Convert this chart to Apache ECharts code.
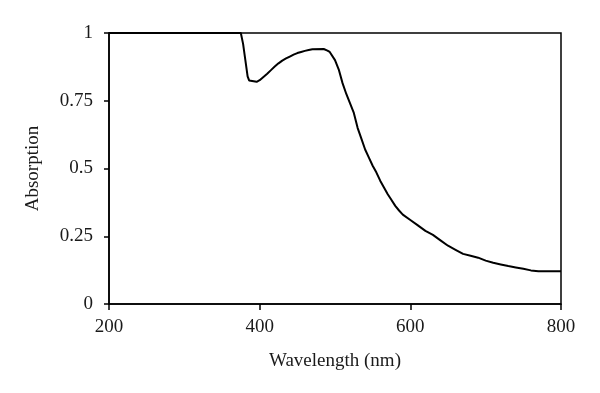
<!DOCTYPE html>
<html>
<head>
<meta charset="utf-8">
<script src="https://cdn.jsdelivr.net/npm/echarts@6/dist/echarts.min.js"></script>
<style>html,body{margin:0;padding:0;background:#fff}#c{width:600px;height:393px}</style>
</head>
<body>
<div id="c"></div>
<script>
const wavelengths = [200,375,378,381,384,386,388,396,400,405,410,415,420,425,430,435,440,445,450,455,460,465,470,485,490,493,500,505,510,515,520,525,530,535,540,545,550,555,560,565,570,575,580,585,590,600,610,620,630,640,650,660,670,680,690,700,710,720,730,740,750,760,770,800];
const absorption = [1,1,0.96,0.9,0.84,0.825,0.82,0.82,0.826,0.838,0.85,0.863,0.876,0.888,0.898,0.906,0.913,0.92,0.926,0.93,0.934,0.937,0.94,0.941,0.935,0.93,0.90,0.865,0.815,0.775,0.74,0.705,0.65,0.61,0.57,0.54,0.51,0.485,0.455,0.43,0.405,0.384,0.362,0.345,0.33,0.31,0.29,0.27,0.255,0.235,0.215,0.2,0.185,0.178,0.171,0.16,0.152,0.146,0.14,0.135,0.13,0.124,0.121,0.121];
const xTicks = [200,400,600,800];
const yTicks = [0,0.25,0.5,0.75,1];

const font = '"Liberation Serif", "DejaVu Serif", serif';
const chart = echarts.init(document.getElementById('c'));
chart.setOption({
  animation: false,
  backgroundColor: '#fff',
  grid: {left: 109, right: 39, top: 33, bottom: 89, show: true, borderColor: '#000', borderWidth: 1.5, backgroundColor: 'transparent'},
  xAxis: {
    type: 'value', min: xTicks[0], max: xTicks[xTicks.length-1], interval: 200,
    name: 'Wavelength (nm)', nameLocation: 'middle', nameGap: 48,
    nameTextStyle: {fontFamily: font, fontSize: 19, color: '#1a1a1a'},
    axisLine: {show: true, lineStyle: {color: '#000', width: 1.5}},
    axisTick: {show: true, length: 6, lineStyle: {color: '#000', width: 1.5}},
    axisLabel: {fontFamily: font, fontSize: 19, color: '#1a1a1a', margin: 14},
    splitLine: {show: false}
  },
  yAxis: {
    type: 'value', min: yTicks[0], max: yTicks[yTicks.length-1], interval: 0.25,
    name: 'Absorption', nameLocation: 'middle', nameGap: 66,
    nameTextStyle: {fontFamily: font, fontSize: 19, color: '#1a1a1a'},
    axisLine: {show: true, lineStyle: {color: '#000', width: 1.5}},
    axisTick: {show: true, length: 5, lineStyle: {color: '#000', width: 1.5}},
    axisLabel: {fontFamily: font, fontSize: 19, color: '#1a1a1a', margin: 16},
    splitLine: {show: false}
  },
  series: [{
    type: 'line',
    data: wavelengths.map((w, i) => [w, absorption[i]]),
    showSymbol: false,
    lineStyle: {color: '#000', width: 2},
    clip: false
  }]
});
</script>
</body>
</html>
